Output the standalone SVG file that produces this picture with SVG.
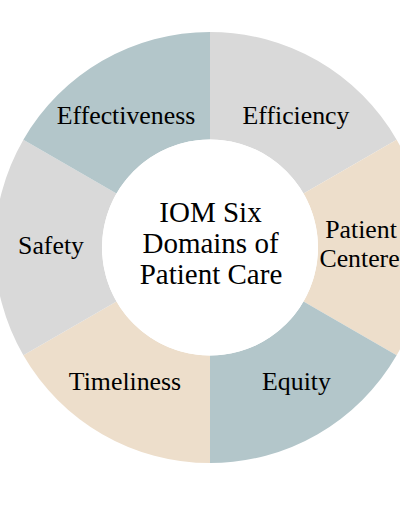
<svg xmlns="http://www.w3.org/2000/svg" width="400" height="516" viewBox="0 0 400 516">
<style>
.blue{fill:#b3c6ca}
.gray{fill:#d9d9d9}
.beige{fill:#eddecb}
.lbl{font-family:'Liberation Serif','Times New Roman',serif;font-size:25.8px;fill:#000;text-anchor:middle}
.ctr{font-family:'Liberation Serif','Times New Roman',serif;font-size:29px;fill:#000;text-anchor:middle}
</style>
<rect width="400" height="516" fill="#fff"/>
<g id="efficiency">
<path class="gray" d="M210,32 A215.5,215.5 0 0 1 396.63,139.75 L303.53,193.5 A108,108 0 0 0 210,139.5 Z"/>
<text class="lbl" x="296" y="124">Efficiency</text>
</g>
<g id="patient-centered">
<path class="beige" d="M396.63,139.75 A215.5,215.5 0 0 1 396.63,355.25 L303.53,301.5 A108,108 0 0 0 303.53,193.5 Z"/>
<text class="lbl" x="361" y="237.5">Patient</text>
<text class="lbl" x="366" y="266.5">Centered</text>
</g>
<g id="equity">
<path class="blue" d="M396.63,355.25 A215.5,215.5 0 0 1 210,463 L210,355.5 A108,108 0 0 0 303.53,301.5 Z"/>
<text class="lbl" x="296.5" y="390">Equity</text>
</g>
<g id="timeliness">
<path class="beige" d="M210,463 A215.5,215.5 0 0 1 23.37,355.25 L116.47,301.5 A108,108 0 0 0 210,355.5 Z"/>
<text class="lbl" x="125" y="390">Timeliness</text>
</g>
<g id="safety">
<path class="gray" d="M23.37,355.25 A215.5,215.5 0 0 1 23.37,139.75 L116.47,193.5 A108,108 0 0 0 116.47,301.5 Z"/>
<text class="lbl" x="51" y="254">Safety</text>
</g>
<g id="effectiveness">
<path class="blue" d="M23.37,139.75 A215.5,215.5 0 0 1 210,32 L210,139.5 A108,108 0 0 0 116.47,193.5 Z"/>
<text class="lbl" x="126" y="124">Effectiveness</text>
</g>
<g id="center">
<circle cx="210" cy="247.5" r="108" fill="#fff"/>
<text class="ctr" x="210.5" y="221.5">IOM Six</text>
<text class="ctr" x="210.5" y="252.5">Domains of</text>
<text class="ctr" x="211" y="283.5">Patient Care</text>
</g>
<g id="connectors"></g>
</svg>
